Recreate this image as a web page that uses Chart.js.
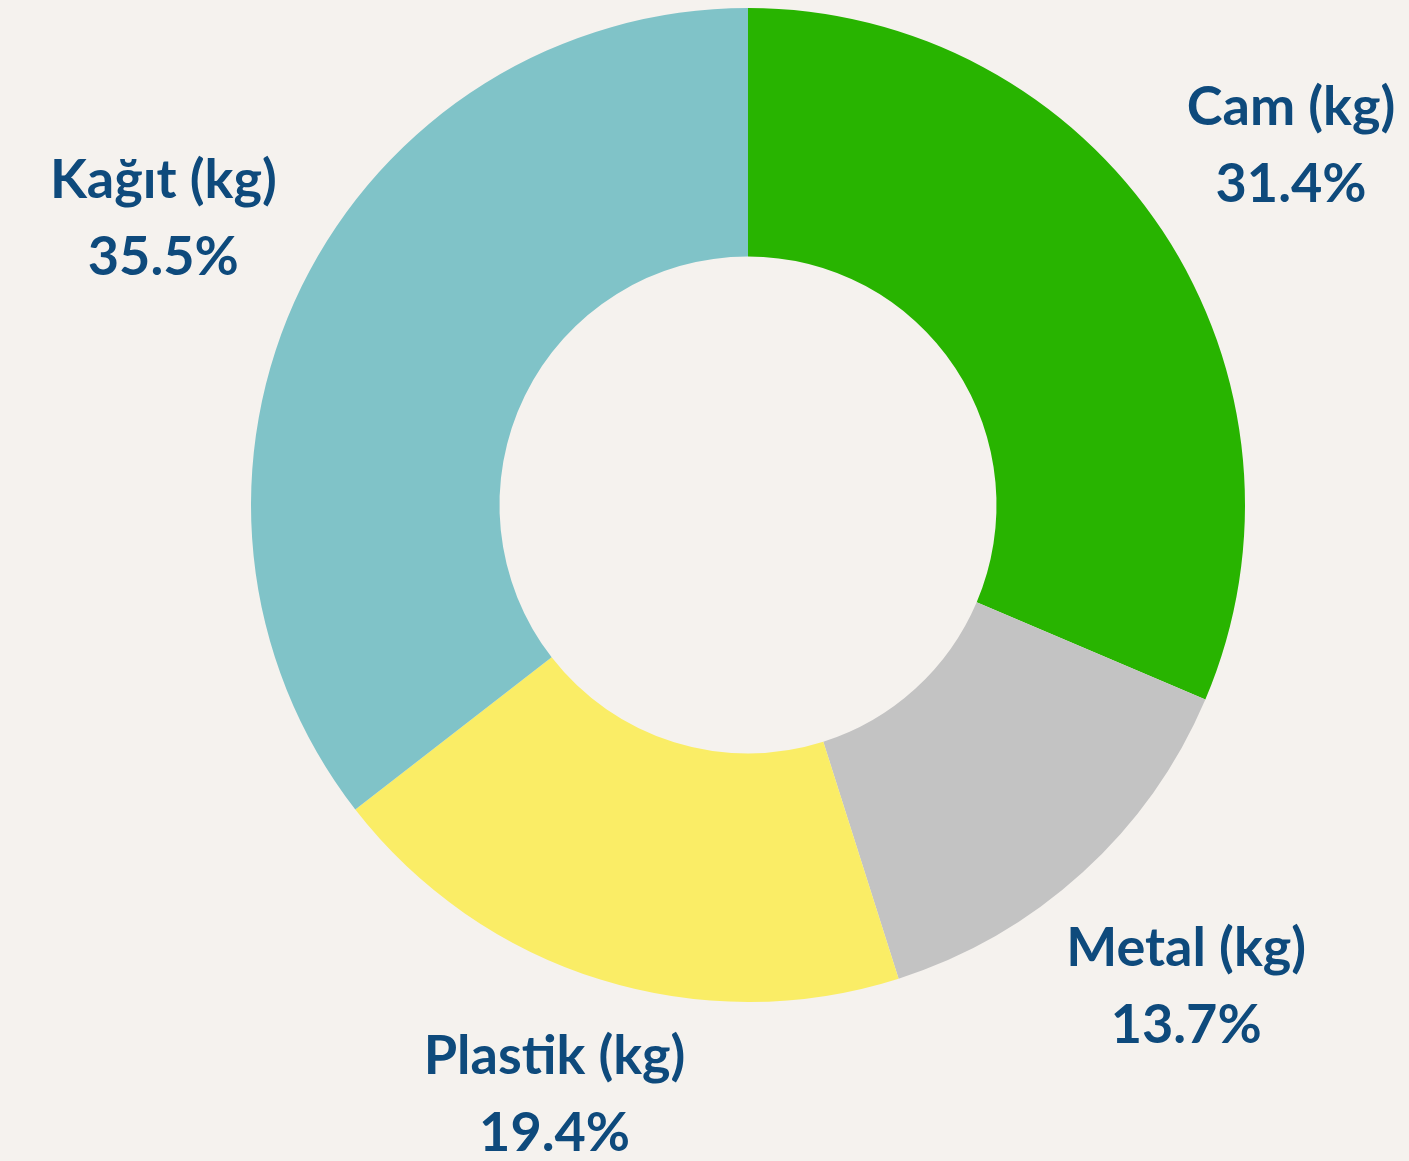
<!DOCTYPE html>
<html>
<head>
<meta charset="utf-8">
<script src="https://cdn.jsdelivr.net/npm/chart.js@4.4.0/dist/chart.umd.min.js"></script>
<style>
  html, body { margin: 0; padding: 0; background: #f5f2ee; }
  #wrap { width: 1409px; height: 1161px; }
</style>
</head>
<body>
<div id="wrap"><canvas id="donut"></canvas></div>
<script>
// Chart data
const categories = ['Cam (kg)', 'Metal (kg)', 'Plastik (kg)', 'Kağıt (kg)'];
const shares = [31.4, 13.7, 19.4, 35.5];
const sliceColors = ['#28b400', '#c3c3c3', '#faed66', '#80c3c8'];

// Labels outside the ring, placed along each slice's middle angle
const outsideLabels = {
    id: 'outsideLabels',
    afterDatasetsDraw(chart) {
        const ctx = chart.ctx;
        const meta = chart.getDatasetMeta(0);
        ctx.save();
        ctx.fillStyle = '#0e4a7c';
        ctx.font = 'bold 54px Lato';
        ctx.textAlign = 'center';
        ctx.textBaseline = 'middle';
        meta.data.forEach((arc, i) => {
            const p = arc.getProps(['x', 'y', 'startAngle', 'endAngle', 'outerRadius']);
            const mid = (p.startAngle + p.endAngle) / 2;
            const r = p.outerRadius * 1.31;
            let x = p.x + Math.cos(mid) * r;
            let y = p.y + Math.sin(mid) * r;
            // keep both lines inside the canvas
            y = Math.min(y, chart.height - 66);
            ctx.fillText(categories[i], x, y - 38);
            ctx.fillText(shares[i].toFixed(1) + '%', x, y + 39);
        });
        ctx.restore();
    }
};

new Chart(document.getElementById('donut'), {
    type: 'doughnut',
    data: {
        labels: categories,
        datasets: [{
            data: shares,
            backgroundColor: sliceColors,
            borderWidth: 0
        }]
    },
    options: {
        responsive: true,
        maintainAspectRatio: false,
        animation: false,
        cutout: '50%',
        layout: {
            padding: { top: 8, bottom: 159, left: 87, right: 0 }
        },
        plugins: {
            legend: { display: false },
            tooltip: { enabled: false }
        }
    },
    plugins: [outsideLabels]
});
</script>
</body>
</html>
